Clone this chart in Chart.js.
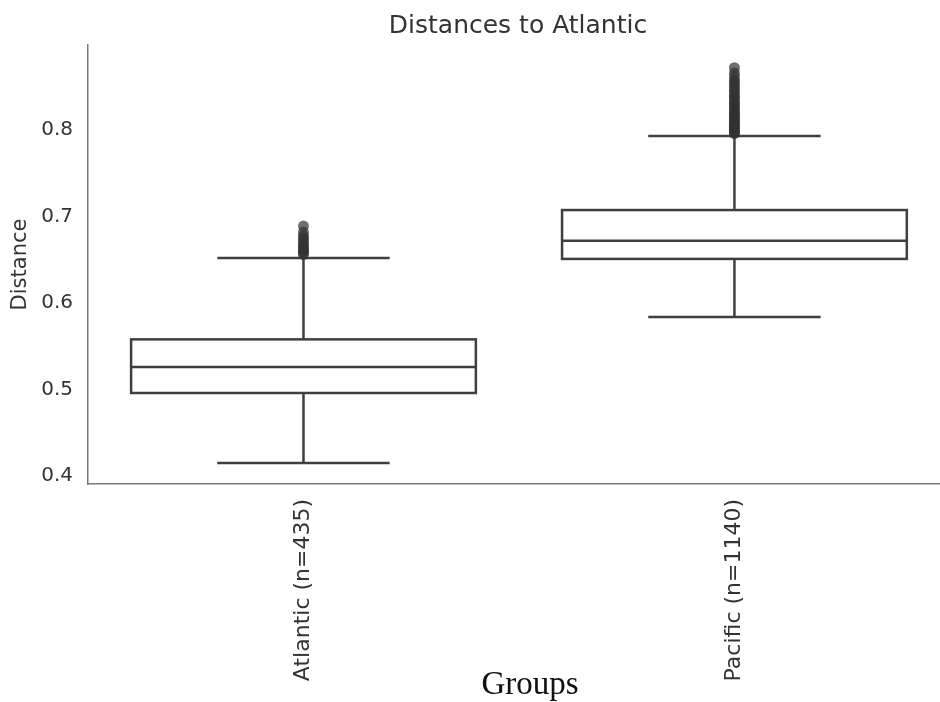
<!DOCTYPE html>
<html>
<head>
<meta charset="utf-8">
<script src="https://cdn.jsdelivr.net/npm/chart.js@4.4.1/dist/chart.umd.min.js"></script>
<style>
  html, body { margin: 0; padding: 0; background: #fff; }
  #wrap { width: 940px; height: 702px; position: relative; }
</style>
</head>
<body>
<div id="wrap"><canvas id="chart"></canvas></div>
<script>
// ========== DATA ==========
const groups = ["Atlantic (n=435)", "Pacific (n=1140)"];
const whiskerLow = [0.415, 0.584];
const q1 = [0.496, 0.651];
const median = [0.526, 0.672];
const q3 = [0.558, 0.7075];
const whiskerHigh = [0.652, 0.793];
const atlanticOutliers = [0.656, 0.658, 0.660, 0.662, 0.664, 0.666, 0.669, 0.672, 0.675, 0.678, 0.682, 0.689];
const pacificOutliers = [0.796, 0.797, 0.799, 0.801, 0.803, 0.804, 0.806, 0.808, 0.810, 0.812, 0.814, 0.816,
  0.818, 0.820, 0.822, 0.825, 0.827, 0.830, 0.832, 0.835, 0.838, 0.840, 0.843, 0.846, 0.849, 0.852,
  0.855, 0.858, 0.862, 0.866, 0.872];
const yTicks = [0.4, 0.5, 0.6, 0.7, 0.8];

const LINE = "#3f3f3f";
const BOX_WIDTH = 0.8;

// box, whiskers and median drawn from the scales
const boxPlugin = {
  id: "boxes",
  beforeDatasetsDraw(chart) {
    const { ctx, scales: { x, y } } = chart;
    ctx.save();
    ctx.strokeStyle = LINE;
    ctx.lineWidth = 2.5;
    const line = (x1, y1, x2, y2) => {
      ctx.beginPath(); ctx.moveTo(x1, y1); ctx.lineTo(x2, y2); ctx.stroke();
    };
    groups.forEach((g, i) => {
      const xc = x.getPixelForValue(i);
      const hw = xc - x.getPixelForValue(i - BOX_WIDTH / 2);
      const cw = hw / 2;
      // whiskers
      line(xc, y.getPixelForValue(whiskerLow[i]), xc, y.getPixelForValue(q1[i]));
      line(xc, y.getPixelForValue(q3[i]), xc, y.getPixelForValue(whiskerHigh[i]));
      line(xc - cw, y.getPixelForValue(whiskerLow[i]), xc + cw, y.getPixelForValue(whiskerLow[i]));
      line(xc - cw, y.getPixelForValue(whiskerHigh[i]), xc + cw, y.getPixelForValue(whiskerHigh[i]));
      // box
      const top = y.getPixelForValue(q3[i]);
      const bot = y.getPixelForValue(q1[i]);
      ctx.fillStyle = "#fff";
      ctx.fillRect(xc - hw, top, hw * 2, bot - top);
      ctx.strokeRect(xc - hw, top, hw * 2, bot - top);
      line(xc - hw, y.getPixelForValue(median[i]), xc + hw, y.getPixelForValue(median[i]));
    });
    ctx.restore();
  },
  afterDraw(chart) {
    const { ctx } = chart;
    ctx.save();
    ctx.fillStyle = "#333";
    ctx.textAlign = "center";
    ctx.textBaseline = "alphabetic";
    ctx.font = "25px 'DejaVu Sans'";
    ctx.fillText("Distances to Atlantic", 518, 33);
    ctx.fillStyle = "#111";
    ctx.font = "33px 'Liberation Serif'";
    ctx.fillText("Groups", 530, 694);
    ctx.restore();
  }
};

const outlierData = [
  ...atlanticOutliers.map(v => ({ x: 0, y: v })),
  ...pacificOutliers.map(v => ({ x: 1, y: v }))
];

Chart.defaults.font.family = "'DejaVu Sans'";
Chart.defaults.color = "#333";

new Chart(document.getElementById("chart"), {
  type: "scatter",
  data: {
    datasets: [{
      data: outlierData,
      pointRadius: 5.5,
      pointBackgroundColor: "rgba(50,50,50,0.7)",
      pointBorderWidth: 0,
      clip: false
    }]
  },
  options: {
    responsive: true,
    maintainAspectRatio: false,
    animation: false,
    layout: { autoPadding: false, padding: { top: 45, right: 0, left: 0, bottom: 0 } },
    plugins: { legend: { display: false }, tooltip: { enabled: false } },
    scales: {
      x: {
        type: "linear",
        min: -0.5,
        max: 1.477,
        afterBuildTicks(s) { s.ticks = groups.map((g, i) => ({ value: i })); },
        grid: { display: false, drawTicks: false },
        border: { color: "#7a7a7a", width: 1.5 },
        ticks: { minRotation: 90, maxRotation: 90, autoSkip: false, padding: 15, font: { size: 22 }, color: "#333",
          callback: v => groups[v] },
        afterFit(s) { s.height = 218; s.paddingLeft = 0; s.paddingRight = 0; }
      },
      y: {
        min: 0.3908,
        max: 0.8983,
        afterBuildTicks(s) { s.ticks = yTicks.map(v => ({ value: v })); },
        grid: { display: false, drawTicks: false },
        border: { color: "#7a7a7a", width: 1.5 },
        ticks: { padding: 15, font: { size: 20 }, color: "#333", callback: v => v.toFixed(1) },
        title: { display: true, text: "Distance", font: { size: 21 }, color: "#333", padding: { top: 7.5 } },
        afterFit(s) { s.width = 88; s.paddingTop = 0; s.paddingBottom = 0; }
      }
    }
  },
  plugins: [boxPlugin]
});
</script>
</body>
</html>
